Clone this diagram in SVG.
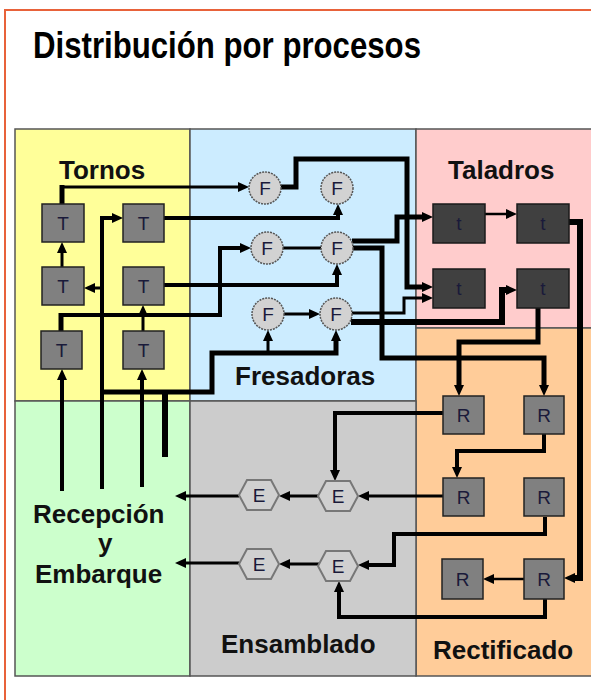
<svg xmlns="http://www.w3.org/2000/svg" width="591" height="700" viewBox="0 0 591 700">
<style>
.frame{fill:none;stroke:#E8623A;stroke-width:2}
.zone{stroke:#555;stroke-width:1.5}
.lbl{font-family:"Liberation Sans",Arial,sans-serif;font-weight:bold;font-size:26px;fill:#111}
.tbox{fill:#808080;stroke:#222;stroke-width:1.5}
.dbox{fill:#404040;stroke:#1a1a1a;stroke-width:1.5}
.fc{fill:#D2D2D2;stroke:#555;stroke-width:1.5;stroke-dasharray:2 1}
.hex{fill:#D0D0D0;stroke:#777;stroke-width:2}
.nt{font-family:"Liberation Sans",Arial,sans-serif;font-size:19px;fill:#1a1a3a;text-anchor:middle}
.c{fill:none;stroke:#000;stroke-linejoin:miter}
.w2{stroke-width:2.5}.w3{stroke-width:3}.w4{stroke-width:4}.w5{stroke-width:5}.w6{stroke-width:6}
</style>
<defs>
<marker id="ah" markerUnits="userSpaceOnUse" markerWidth="11" markerHeight="10" viewBox="0 0 11 10" refX="1" refY="5" orient="auto"><path d="M0,0 L11,5 L0,10 z" fill="#000"/></marker>
</defs>
<rect width="591" height="700" fill="#fff"/>
<rect class="frame" x="5" y="10" width="620" height="720"/>
<text x="33" y="58" font-family="Liberation Sans, Arial, sans-serif" font-weight="bold" font-size="36" fill="#000" textLength="388" lengthAdjust="spacingAndGlyphs">Distribución por procesos</text>

<g id="zones">
<rect class="zone" x="15" y="129" width="175" height="272" fill="#FFFF99"/>
<rect class="zone" x="190" y="129" width="226" height="272" fill="#CCECFF"/>
<rect class="zone" x="416" y="129" width="190" height="199" fill="#FFCCCC"/>
<rect class="zone" x="416" y="328" width="190" height="348" fill="#FFCC99"/>
<rect class="zone" x="15" y="401" width="175" height="275" fill="#CCFFCC"/>
<rect class="zone" x="190" y="401" width="226" height="275" fill="#CCCCCC"/>
<text class="lbl" x="59" y="179">Tornos</text>
<text class="lbl" x="448" y="179">Taladros</text>
<text class="lbl" x="235" y="385">Fresadoras</text>
<text class="lbl" x="433" y="659">Rectificado</text>
<text class="lbl" x="221" y="653">Ensamblado</text>
<text class="lbl" x="33" y="523">Recepción</text>
<text class="lbl" x="98" y="552">y</text>
<text class="lbl" x="35" y="583">Embarque</text>
</g>

<g id="connectors">
<path class="c w5" d="M62,205 V185"/>
<path class="c w3" d="M62,187 H239" marker-end="url(#ah)"/>
<path class="c w4" d="M164,218 H338 V214" marker-end="url(#ah)"/>
<path class="c w4" d="M102,489 V218 H113" marker-end="url(#ah)"/>
<path class="c w3" d="M102,288 H94" marker-end="url(#ah)"/>
<path class="c w3" d="M62,267 V252" marker-end="url(#ah)"/>
<path class="c w3" d="M143,331 V315" marker-end="url(#ah)"/>
<path class="c w4" d="M62,491 V379" marker-end="url(#ah)"/>
<path class="c w4" d="M142,487 V379" marker-end="url(#ah)"/>
<path class="c w6" d="M165,457 V392"/>
<path class="c w5" d="M100,392 H212 V353 H336 V340" marker-end="url(#ah)"/>
<path class="c w3" d="M268,353 V340" marker-end="url(#ah)"/>
<path class="c w5" d="M61,331 V313"/>
<path class="c w4" d="M61,315 H220 V248 H241" marker-end="url(#ah)"/>
<path class="c w4" d="M164,285 H337 V274" marker-end="url(#ah)"/>
<path class="c w5" d="M281,187 H296 V159 H407 V287 H423" marker-end="url(#ah)"/>
<path class="c w3" d="M283,248 H321"/>
<path class="c w3" d="M284,314 H310" marker-end="url(#ah)"/>
<path class="c w5" d="M352,241 H397 V217 H423" marker-end="url(#ah)"/>
<path class="c w5" d="M352,248 H382 V358 H544 V386" marker-end="url(#ah)"/>
<path class="c w3" d="M352,313 H404 V298 H423" marker-end="url(#ah)"/>
<path class="c w6" d="M351,322 H502 V290 H507" marker-end="url(#ah)"/>
<path class="c w2" d="M485,214 H507" marker-end="url(#ah)"/>
<path class="c w6" d="M569,222 H580 V578 H574" marker-end="url(#ah)"/>
<path class="c w5" d="M538,308 V342 H459 V386" marker-end="url(#ah)"/>
<path class="c w4" d="M544,434 V451 H457 V468" marker-end="url(#ah)"/>
<path class="c w4" d="M443,413 H335 V471" marker-end="url(#ah)"/>
<path class="c w3" d="M443,496 H368" marker-end="url(#ah)"/>
<path class="c w4" d="M545,517 V534 H394 V565 H368" marker-end="url(#ah)"/>
<path class="c w4" d="M545,599 V617 H339 V591" marker-end="url(#ah)"/>
<path class="c w2" d="M524,579 H493" marker-end="url(#ah)"/>
<path class="c w3" d="M318,496 H289" marker-end="url(#ah)"/>
<path class="c w3" d="M239,496 H185" marker-end="url(#ah)"/>
<path class="c w3" d="M319,564 H289" marker-end="url(#ah)"/>
<path class="c w3" d="M239,563 H185" marker-end="url(#ah)"/>
</g>

<g id="T1"><rect class="tbox" x="42" y="204" width="42" height="38"/><text class="nt" x="63" y="230">T</text></g>
<g id="T2"><rect class="tbox" x="123" y="204" width="41" height="38"/><text class="nt" x="143.5" y="230">T</text></g>
<g id="T3"><rect class="tbox" x="42" y="267" width="42" height="38"/><text class="nt" x="63" y="293">T</text></g>
<g id="T4"><rect class="tbox" x="123" y="267" width="41" height="38"/><text class="nt" x="143.5" y="293">T</text></g>
<g id="T5"><rect class="tbox" x="41" y="331" width="41" height="38"/><text class="nt" x="61.5" y="357">T</text></g>
<g id="T6"><rect class="tbox" x="123" y="331" width="41" height="38"/><text class="nt" x="143.5" y="357">T</text></g>

<g id="F1"><circle class="fc" cx="265" cy="188" r="16"/><text class="nt" x="265" y="195">F</text></g>
<g id="F2"><circle class="fc" cx="337" cy="188" r="16"/><text class="nt" x="337" y="195">F</text></g>
<g id="F3"><circle class="fc" cx="267" cy="248" r="16"/><text class="nt" x="267" y="255">F</text></g>
<g id="F4"><circle class="fc" cx="337" cy="248" r="16"/><text class="nt" x="337" y="255">F</text></g>
<g id="F5"><circle class="fc" cx="268" cy="314" r="16"/><text class="nt" x="268" y="321">F</text></g>
<g id="F6"><circle class="fc" cx="336" cy="314" r="16"/><text class="nt" x="336" y="321">F</text></g>

<g id="t1"><rect class="dbox" x="433" y="204" width="52" height="39"/><text class="nt" x="459" y="230">t</text></g>
<g id="t2"><rect class="dbox" x="517" y="204" width="52" height="39"/><text class="nt" x="543" y="230">t</text></g>
<g id="t3"><rect class="dbox" x="433" y="269" width="52" height="39"/><text class="nt" x="459" y="295">t</text></g>
<g id="t4"><rect class="dbox" x="517" y="269" width="52" height="39"/><text class="nt" x="543" y="295">t</text></g>

<g id="R1"><rect class="tbox" x="443" y="396" width="41" height="38"/><text class="nt" x="463.5" y="422">R</text></g>
<g id="R2"><rect class="tbox" x="524" y="396" width="40" height="38"/><text class="nt" x="544" y="422">R</text></g>
<g id="R3"><rect class="tbox" x="443" y="478" width="41" height="38"/><text class="nt" x="463.5" y="504">R</text></g>
<g id="R4"><rect class="tbox" x="524" y="478" width="40" height="38"/><text class="nt" x="544" y="504">R</text></g>
<g id="R5"><rect class="tbox" x="442" y="559" width="41" height="40"/><text class="nt" x="462.5" y="586">R</text></g>
<g id="R6"><rect class="tbox" x="524" y="559" width="40" height="40"/><text class="nt" x="544" y="586">R</text></g>

<g id="E1"><polygon class="hex" points="239,495 247,480 271,480 279,495 271,510 247,510"/><text class="nt" x="259" y="502">E</text></g>
<g id="E2"><polygon class="hex" points="318,496 326,481 350,481 358,496 350,511 326,511"/><text class="nt" x="338" y="503">E</text></g>
<g id="E3"><polygon class="hex" points="239,564 247,549 271,549 279,564 271,579 247,579"/><text class="nt" x="259" y="571">E</text></g>
<g id="E4"><polygon class="hex" points="318,566 326,551 350,551 358,566 350,581 326,581"/><text class="nt" x="338" y="573">E</text></g>
</svg>
